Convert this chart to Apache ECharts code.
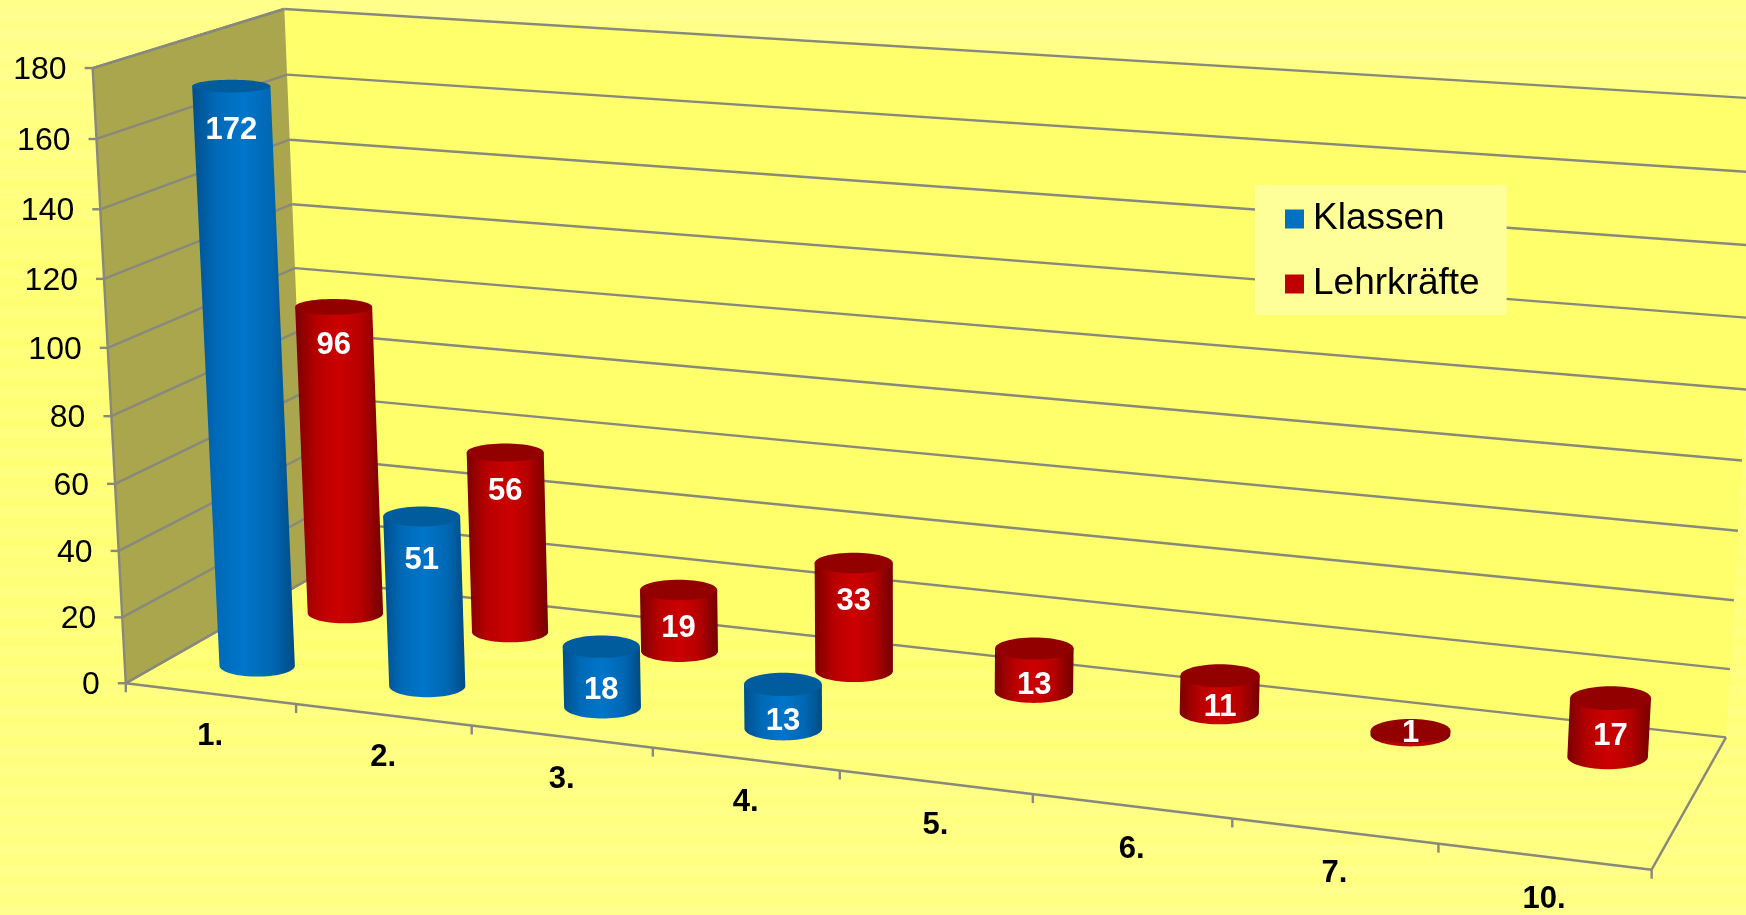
<!DOCTYPE html>
<html>
<head>
<meta charset="utf-8">
<style>html,body{margin:0;padding:0;width:100%;height:100%;overflow:hidden;background:#ffff80}#c{width:1746px;height:915px}</style>
<script src="https://cdn.jsdelivr.net/npm/echarts@6/dist/echarts.min.js"></script>
</head>
<body>
<div id="c"></div>
<script>
const categories = ['1.', '2.', '3.', '4.', '5.', '6.', '7.', '10.'];
const klassen = [172, 51, 18, 13, null, null, null, null];
const lehrkraefte = [96, 56, 19, 33, 13, 11, 1, 17];
const yTicks = [0, 20, 40, 60, 80, 100, 120, 140, 160, 180];

// Calibration of the 3D box: [u, height, depth] -> page pixel
const boxCalibration = [
  [0, 0, 0, 125.5, 683], [1, 0, 0, 1651.6, 870], [0, 0, 1, 308, 580], [1, 0, 1, 1726, 737],
  [0, 1, 0, 93, 68], [0, 1, 1, 284, 9], [1, 1, 1, 1763, 99]
];
function fitProjection(pts) {
  const rows = [], rhs = [];
  pts.forEach(([u, v, w, X, Y]) => {
    const x = X / 1000, y = Y / 1000;
    rows.push([1, u, v, w, 0, 0, 0, 0, -x * u, -x * v, -x * w]); rhs.push(x);
    rows.push([0, 0, 0, 0, 1, u, v, w, -y * u, -y * v, -y * w]); rhs.push(y);
  });
  const n = 11, A = [];
  for (let i = 0; i < n; i++) {
    A.push(new Array(n + 1).fill(0));
    for (let j = 0; j < n; j++) rows.forEach(r => { A[i][j] += r[i] * r[j]; });
    rows.forEach((r, k) => { A[i][n] += r[i] * rhs[k]; });
  }
  for (let c = 0; c < n; c++) {
    let p = c;
    for (let i = c + 1; i < n; i++) if (Math.abs(A[i][c]) > Math.abs(A[p][c])) p = i;
    [A[c], A[p]] = [A[p], A[c]];
    for (let i = 0; i < n; i++) if (i !== c) {
      const f = A[i][c] / A[c][c];
      for (let j = c; j <= n; j++) A[i][j] -= f * A[c][j];
    }
  }
  return A.map((r, i) => r[n] / r[i]);
}
const M = fitProjection(boxCalibration);
function project(u, v, w) {
  const d = 1 + M[8] * u + M[9] * v + M[10] * w;
  return [1000 * (M[0] + M[1] * u + M[2] * v + M[3] * w) / d,
          1000 * (M[4] + M[5] * u + M[6] * v + M[7] * w) / d];
}
function unit(api, params, cat, val) {
  const p = api.coord([cat, val]), g = params.coordSys;
  return [(p[0] - g.x) / g.width, (g.y + g.height - p[1]) / g.height];
}
// Faint horizontal banding of the original's picture background
function banded(anchors, period, total) {
  const stops = [], n = Math.round(total / period);
  const colorAt = t => {
    let i = 0;
    while (i < anchors.length - 2 && t > anchors[i + 1][0]) i++;
    const [t0, b0] = anchors[i], [t1, b1] = anchors[i + 1];
    return b0 + (b1 - b0) * (t - t0) / (t1 - t0);
  };
  for (let k = 0; k < n; k++) {
    const t0 = k / n, t1 = (k + 1) / n;
    const b = Math.round(colorAt(t0) + (k % 2 ? 4 : -4));
    const c = 'rgb(255,255,' + b + ')';
    stops.push({ offset: t0, color: c }, { offset: t1, color: c });
  }
  return new echarts.graphic.LinearGradient(0, 0, 0, 1, stops);
}
const GRAY = '#88887c';
const line = (a, b, w) => ({ type: 'line', silent: true,
  shape: { x1: a[0], y1: a[1], x2: b[0], y2: b[1] }, style: { stroke: GRAY, lineWidth: w || 2.4 } });
const poly = (pts, fill) => ({ type: 'polygon', silent: true, shape: { points: pts }, style: { fill } });

function renderWalls() {
  const A = project(0, 0, 0), B = project(1, 0, 0), C = project(0, 0, 1), D = project(1, 0, 1),
        E = project(0, 1, 0), F = project(0, 1, 1), G = project(1, 1, 1);
  return { type: 'group', children: [
    poly([C, D, G, F], '#ffff6c'),
    poly([A, B, D, C], banded([[0, 112], [1, 134]], 10, 290)),
    poly([A, C, F, E], '#a9a64e'),
    line(A, B), line(B, D), line(A, C), line(A, E), line(E, F)
  ]};
}
function renderYTick(params, api) {
  const [, v] = unit(api, params, 0, api.value(0));
  const a = project(0, v, 0), b = project(0, v, 1), c = project(1, v, 1);
  return { type: 'group', children: [
    line(a, b), line(b, c), line([a[0] - 8, a[1]], a),
    { type: 'text', silent: true, style: { x: a[0] - 26, y: a[1] + 2, text: String(api.value(0)),
      fontFamily: 'Liberation Sans', fontSize: 32, fill: '#000', align: 'right', verticalAlign: 'middle' } }
  ]};
}
function renderXTick(params, api) {
  const i = api.value(0), n = categories.length;
  const children = [];
  const t = project(i / n, 0, 0);
  children.push(line(t, [t[0], t[1] + 9]));
  if (i === n - 1) { const e = project(1, 0, 0); children.push(line(e, [e[0], e[1] + 9])); }
  const m = project((i + 0.5) / n, 0, 0);
  children.push({ type: 'text', silent: true, style: { x: m[0], y: m[1] + 43, text: categories[i],
    fontFamily: 'Liberation Sans', fontWeight: 'bold', fontSize: 31, fill: '#000', align: 'center', verticalAlign: 'middle' } });
  return { type: 'group', children };
}
const RW = 0.1;
const radiusPx = (u, v) => 37.5 * (1 + 0.08 * u) * (1 + 0.04 * v);
function cylinder(depth, pal, labelCap) {
  return function (params, api) {
    const cat = api.value(0), val = api.value(1);
    if (val == null || isNaN(val)) return null;
    const [u0, v0] = unit(api, params, cat, 0);
    const [u1, v1] = unit(api, params, cat, val);
    const top = project(u1, v1, depth), bot = project(u0, v0, depth);
    const a = radiusPx(u1, v1), aB = radiusPx(u0, v0);
    const b = Math.abs(project(u1, v1, depth + RW)[1] - project(u1, v1, depth - RW)[1]) / 2;
    const bB = Math.abs(project(u0, v0, depth + RW)[1] - project(u0, v0, depth - RW)[1]) / 2;
    const body = [[top[0] - a, top[1]]];
    for (let k = 0; k <= 36; k++) {
      const t = Math.PI - Math.PI * k / 36;
      body.push([bot[0] + aB * Math.cos(t), bot[1] + bB * Math.sin(t)]);
    }
    body.push([top[0] + a, top[1]]);
    const h = bot[1] - top[1];
    return { type: 'group', children: [
      poly(body, new echarts.graphic.LinearGradient(0, 0, 1, 0, pal.body)),
      { type: 'ellipse', silent: true, shape: { cx: top[0], cy: top[1], rx: a, ry: b }, style: { fill: pal.top } },
      { type: 'text', silent: true, style: { x: top[0], y: top[1] + Math.min(labelCap, 0.85 * h), text: String(val),
        fontFamily: 'Liberation Sans', fontWeight: 'bold', fontSize: 31, fill: '#fff', align: 'center', verticalAlign: 'middle' } }
    ]};
  };
}
const bluePal = { top: '#005c9c', body: [
  { offset: 0, color: '#004f8c' }, { offset: 0.22, color: '#0069b6' }, { offset: 0.5, color: '#0075ca' },
  { offset: 0.78, color: '#0067b2' }, { offset: 1, color: '#004b85' }] };
const redPal = { top: '#930000', body: [
  { offset: 0, color: '#7c0000' }, { offset: 0.25, color: '#b80000' }, { offset: 0.5, color: '#cc0000' },
  { offset: 0.75, color: '#b60000' }, { offset: 1, color: '#730000' }] };

const chart = echarts.init(document.getElementById('c'), null, { renderer: 'canvas', width: 1746, height: 915 });
const idx = a => a.map((v, i) => [i, v]);
chart.setOption({
  animation: false,
  backgroundColor: banded([[0, 142], [0.3, 118], [0.7, 124], [1, 136]], 10, 915),
  grid: { left: 0, right: 0, top: 0, bottom: 0 },
  xAxis: { type: 'category', data: categories, show: false },
  yAxis: { type: 'value', min: 0, max: 180, interval: 20, show: false },
  legend: {
    data: ['Klassen', 'Lehrkräfte'], orient: 'vertical', left: 1255, top: 185,
    backgroundColor: '#ffff99', padding: [14, 27, 11, 30], itemWidth: 19, itemHeight: 19, itemGap: 25,
    icon: 'rect', selectedMode: false,
    textStyle: { fontFamily: 'Liberation Sans', fontSize: 37, color: '#000', padding: [4, 0, 0, 4], lineHeight: 36 }
  },
  series: [
    { type: 'custom', name: 'walls', z: 1, silent: true, data: [[0, 0]], renderItem: renderWalls },
    { type: 'custom', name: 'yticks', z: 1, silent: true, data: yTicks.map(v => [v]), encode: { y: 0 }, renderItem: renderYTick },
    { type: 'custom', name: 'xticks', z: 1, silent: true, data: categories.map((c, i) => [i]), encode: { x: 0 }, renderItem: renderXTick },
    { type: 'custom', name: 'Lehrkräfte', z: 2, silent: true, itemStyle: { color: '#c00000' }, data: idx(lehrkraefte), encode: { x: 0, y: 1 }, renderItem: cylinder(0.75, redPal, 38.5) },
    { type: 'custom', name: 'Klassen', z: 3, silent: true, itemStyle: { color: '#0070c0' }, data: idx(klassen), encode: { x: 0, y: 1 }, renderItem: cylinder(0.25, bluePal, 44) }
  ]
});
</script>
</body>
</html>
